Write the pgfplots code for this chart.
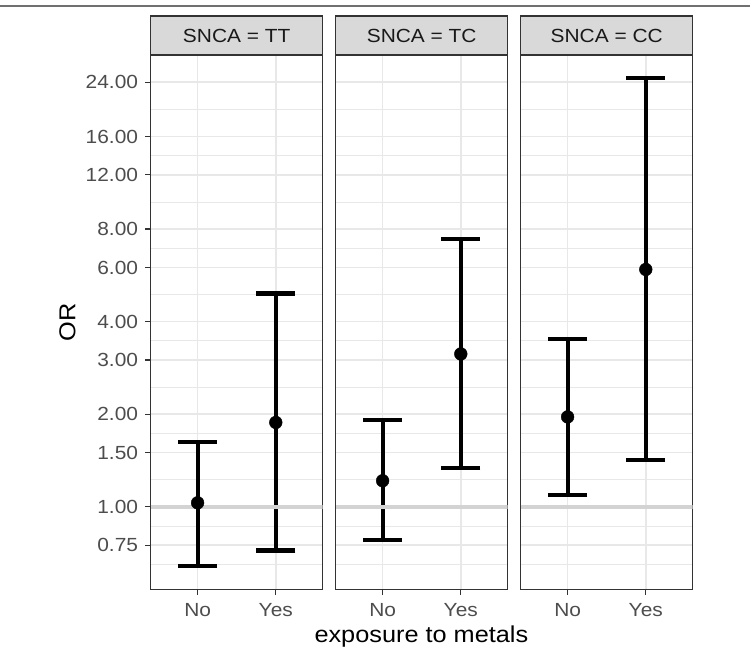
\documentclass[border=0pt]{standalone}
\usepackage{pgfplots}
\pgfplotsset{compat=1.18}
\usepackage{pgfplotstable}
\usepackage{fontspec}
\setmainfont[FakeStretch=1.1]{Liberation Sans}

\definecolor{gridc}{HTML}{E8E8E8}
\definecolor{g20}{HTML}{333333}
\definecolor{g30}{HTML}{4D4D4D}
\definecolor{stripc}{HTML}{D9D9D9}
\definecolor{refl}{HTML}{D3D3D3}
\definecolor{topl}{HTML}{707070}

\pgfplotstableread{
x y lo hi
1 1.03 0.643 1.62
2 1.88 0.721 4.94
}\dataTT
\pgfplotstableread{
x y lo hi
1 1.215 0.779 1.914
2 3.14 1.336 7.41
}\dataTC
\pgfplotstableread{
x y lo hi
1 1.96 1.09 3.52
2 5.91 1.42 24.75
}\dataCC

\pgfplotsset{
  mypanel/.style={
    scale only axis, width=172pt, height=534.3pt, anchor=south west,
    ymin=0.539, ymax=29.45, xmin=0.4, xmax=2.6,
    xtick={1,2}, xticklabels={No,Yes},
    ytick={0.75,1,1.5,2,3,4,6,8,12,16,24},
    minor ytick={0.6495,0.866,1.2247,1.7321,2.4495,3.4641,4.899,6.9282,9.798,13.856,19.596,29.39},
    grid=both,
    major grid style={gridc, line width=1.7pt},
    minor grid style={gridc, line width=0.9pt},
    axis line style={g20, line width=1.1pt},
    tick style={g20, line width=1.1pt},
    major tick length=5.5pt, minor tick length=0pt,
    tick align=outside, xtick pos=bottom, ytick pos=left,
    tick label style={font=\fontsize{19}{22}\selectfont, text=g30},
    xticklabel style={anchor=north, inner sep=0pt, yshift=-8pt},
    yticklabel style={anchor=east, inner sep=0pt, xshift=-7pt},
  },
  ebar/.style={
    black, only marks, mark=*, mark size=6.4pt,
    mark options={line width=0.4pt, fill=black},
    error bars/y dir=both, error bars/y explicit,
    error bars/error mark=-,
    error bars/error mark options={rotate=90, black, mark size=19.5pt, line width=4.2pt},
    error bars/error bar style={black, line width=4.2pt},
  },
}

\newcommand{\strip}[2]{%
  \draw[fill=stripc, draw=g20, line width=1.1pt] (#1pt,598pt) rectangle ++(172pt,39pt);
  \node[font=\fontsize{19}{22}\selectfont, text=black!90, anchor=center] at (#1pt+86pt,617.5pt) {#2};
}

\begin{document}
\begin{tikzpicture}
\useasboundingbox (0,0) rectangle (750pt,653pt);
\draw[topl, line width=1.5pt] (0pt,647pt) -- (750pt,647pt);

\begin{axis}[ymode=log, mypanel, at={(150.7pt,63.7pt)},
  yticklabels={0.75,1.00,1.50,2.00,3.00,4.00,6.00,8.00,12.00,16.00,24.00}]
\addplot[ebar] table[x=x, y=y, y error plus expr=\thisrow{hi}-\thisrow{y}, y error minus expr=\thisrow{y}-\thisrow{lo}] {\dataTT};
\addplot[refl, line width=3.5pt] coordinates {(0.4,1) (2.6,1)};
\end{axis}

\begin{axis}[ymode=log, mypanel, at={(335.7pt,63.7pt)}, yticklabel style={opacity=0}, ytick style={draw=none}]
\addplot[ebar] table[x=x, y=y, y error plus expr=\thisrow{hi}-\thisrow{y}, y error minus expr=\thisrow{y}-\thisrow{lo}] {\dataTC};
\addplot[refl, line width=3.5pt] coordinates {(0.4,1) (2.6,1)};
\end{axis}

\begin{axis}[ymode=log, mypanel, at={(520.7pt,63.7pt)}, yticklabel style={opacity=0}, ytick style={draw=none}]
\addplot[ebar] table[x=x, y=y, y error plus expr=\thisrow{hi}-\thisrow{y}, y error minus expr=\thisrow{y}-\thisrow{lo}] {\dataCC};
\addplot[refl, line width=3.5pt] coordinates {(0.4,1) (2.6,1)};
\end{axis}

\strip{150.7}{SNCA = TT}
\strip{335.7}{SNCA = TC}
\strip{520.7}{SNCA = CC}

\node[rotate=90, font=\fontsize{23}{26}\selectfont, anchor=center] at (67.5pt,330.8pt) {OR};
\node[font=\fontsize{23}{26}\selectfont, anchor=base] at (421.4pt,10pt) {exposure to metals};
\end{tikzpicture}
\end{document}
